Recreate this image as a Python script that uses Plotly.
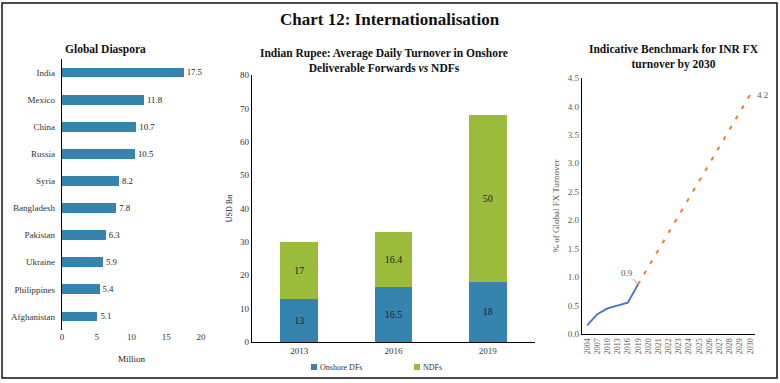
import plotly.graph_objects as go

# ---------------- data ----------------
countries = ["India", "Mexico", "China", "Russia", "Syria", "Bangladesh",
             "Pakistan", "Ukraine", "Philippines", "Afghanistan"]
diaspora_mn = [17.5, 11.8, 10.7, 10.5, 8.2, 7.8, 6.3, 5.9, 5.4, 5.1]

turnover_years = ["2013", "2016", "2019"]
onshore_dfs = [13, 16.5, 18]
ndfs = [17, 16.4, 50]
series_names = ["Onshore DFs", "NDFs"]

bench_cats = ["2004", "2007", "2010", "2013", "2016", "2019", "2020", "2021",
              "2022", "2023", "2024", "2025", "2026", "2027", "2028", "2029", "2030"]
hist_years = ["2004", "2007", "2010", "2013", "2016", "2019"]
hist_share = [0.15, 0.35, 0.45, 0.5, 0.55, 0.87]
proj_years = ["2019", "2030"]
proj_share = [0.87, 4.2]

# ---------------- style ----------------
W, H = 780, 383
FONT = "Liberation Serif"
BLUE = "#3584AE"
GREEN = "#9BBB3B"
LBLUE = "#4472C4"
ORANGE = "#ED7D31"
GREY = "#595959"


def px(x):
    return x / W


def py(y):
    return 1 - y / H


fig = go.Figure()

# left: diaspora
fig.add_trace(go.Bar(
    y=countries, x=diaspora_mn, orientation="h", marker_color=BLUE, width=0.36,
    text=[f"{v}" for v in diaspora_mn], textposition="outside",
    textfont=dict(size=9, color="#222", family=FONT), cliponaxis=False,
    xaxis="x", yaxis="y", showlegend=False))

# middle: stacked bars
for name, vals, col in [(series_names[0], onshore_dfs, BLUE), (series_names[1], ndfs, GREEN)]:
    fig.add_trace(go.Bar(
        x=turnover_years, y=vals, name=name, marker_color=col, width=0.4,
        text=[f"{v}" for v in vals], textposition="inside", insidetextanchor="middle",
        textangle=0, constraintext="none",
        textfont=dict(size=10, color="#222", family=FONT), xaxis="x2", yaxis="y2",
        showlegend=False))

# right: benchmark
fig.add_trace(go.Scatter(
    x=hist_years, y=hist_share, mode="lines", line=dict(color=LBLUE, width=1.8),
    xaxis="x3", yaxis="y3", showlegend=False))
fig.add_trace(go.Scatter(
    x=proj_years, y=proj_share, mode="lines", line=dict(color=ORANGE, width=2, dash="4px,8px"),
    xaxis="x3", yaxis="y3", showlegend=False))

axis_common = dict(showgrid=False, zeroline=False, ticks="", automargin=False,
                   tickfont=dict(family=FONT, size=9, color="#333"))

fig.update_layout(
    template="none",
    width=W, height=H, margin=dict(l=0, r=0, t=0, b=0, pad=0, autoexpand=False),
    paper_bgcolor="white", plot_bgcolor="white",
    font=dict(family=FONT, color="#222"),
    barmode="stack",
    showlegend=False,
    xaxis=dict(domain=[px(62), px(201)], range=[0, 20], dtick=5, anchor="y",
               showline=False, **axis_common,
               title=dict(text="Million", font=dict(size=9, family=FONT), standoff=14)),
    yaxis=dict(domain=[py(330), py(59)], anchor="x", autorange="reversed", type="category",
               showline=True, linecolor="#000", linewidth=1.2, ticklabelstandoff=4,
               **axis_common),
    xaxis2=dict(domain=[px(252), px(535)], anchor="y2", type="category", showline=True,
                linecolor="#000", linewidth=1.2, **axis_common),
    yaxis2=dict(domain=[py(342), py(75)], anchor="x2", range=[0, 80], dtick=10,
                showline=True, linecolor="#000", linewidth=1.2, **axis_common,
                title=dict(text="USD Bn", font=dict(size=8, family=FONT), standoff=6)),
    xaxis3=dict(domain=[px(582), px(755)], anchor="y3", type="category",
                categoryorder="array", categoryarray=bench_cats, range=[-0.5, 16.5],
                showline=True, linecolor="#000", linewidth=1.2, tickangle=-90,
                showgrid=False, zeroline=False, ticks="", automargin=False,
                tickfont=dict(family=FONT, size=8, color=GREY)),
    yaxis3=dict(domain=[py(334), py(78)], anchor="x3", range=[0, 4.5], dtick=0.5,
                tickformat=".1f", showline=True, linecolor="#000", linewidth=1.2,
                showgrid=False, zeroline=False, ticks="", automargin=False,
                tickfont=dict(family=FONT, size=9, color=GREY),
                title=dict(text="% of Global FX Turnover", font=dict(size=9, family=FONT, color=GREY),
                           standoff=6)),
)

i_2030 = bench_cats.index(proj_years[-1])
i_2019 = bench_cats.index(hist_years[-1])

annotations = [
    dict(text="<b>Chart 12: Internationalisation</b>", x=0.5, y=py(19), xref="paper", yref="paper",
         xanchor="center", yanchor="middle", showarrow=False,
         font=dict(size=17, family=FONT, color="#111")),
    dict(text="<b>Global Diaspora</b>", x=px(63), y=py(50), xref="paper", yref="paper",
         xanchor="left", yanchor="middle", showarrow=False,
         font=dict(size=11.5, family=FONT, color="#111")),
    dict(text="<b>Indian Rupee: Average Daily Turnover in Onshore<br>Deliverable Forwards <i>vs</i> NDFs</b>",
         x=px(384), y=py(60), xref="paper", yref="paper", xanchor="center", yanchor="middle",
         showarrow=False, font=dict(size=11.5, family=FONT, color="#111")),
    dict(text="<b>Indicative Benchmark for INR FX<br>turnover by 2030</b>",
         x=px(674), y=py(57), xref="paper", yref="paper", xanchor="center", yanchor="middle",
         showarrow=False, font=dict(size=11.5, family=FONT, color="#111")),
    dict(text=f"{proj_share[-1]:.1f}", x=i_2030, y=proj_share[-1], xref="x3", yref="y3",
         xanchor="left", yanchor="middle", xshift=5, showarrow=False,
         font=dict(size=9, family=FONT, color=GREY)),
    dict(text=f"{hist_share[-1]:.1f}", x=i_2019, y=hist_share[-1], xref="x3", yref="y3",
         showarrow=True, arrowhead=0, arrowwidth=1, arrowcolor="#A0A0A0", ax=-11, ay=-12,
         font=dict(size=9, family=FONT, color=GREY)),
]

# legend (manual, to match the compact square + text layout)
legend_pos = [(311, 367), (414, 367)]
shapes = []
for (lx, ly), name, col in zip(legend_pos, series_names, [BLUE, GREEN]):
    shapes.append(dict(type="rect", xref="paper", yref="paper", x0=px(lx), x1=px(lx + 6),
                       y0=py(ly + 3), y1=py(ly - 3), fillcolor=col, line=dict(width=0)))
    annotations.append(dict(text=name, x=px(lx + 7), y=py(ly), xref="paper", yref="paper",
                            xanchor="left", yanchor="middle", showarrow=False,
                            font=dict(size=8, family=FONT, color="#333")))

shapes.append(dict(type="rect", xref="paper", yref="paper", x0=px(2), x1=px(777), y0=py(378),
                   y1=py(3), line=dict(color="#111", width=1.5), fillcolor="rgba(0,0,0,0)"))
fig.update_layout(annotations=annotations, shapes=shapes)

fig.write_html("out.html", config={"displayModeBar": False},
               post_script="document.body.style.margin='0';document.body.style.overflow='hidden';")
